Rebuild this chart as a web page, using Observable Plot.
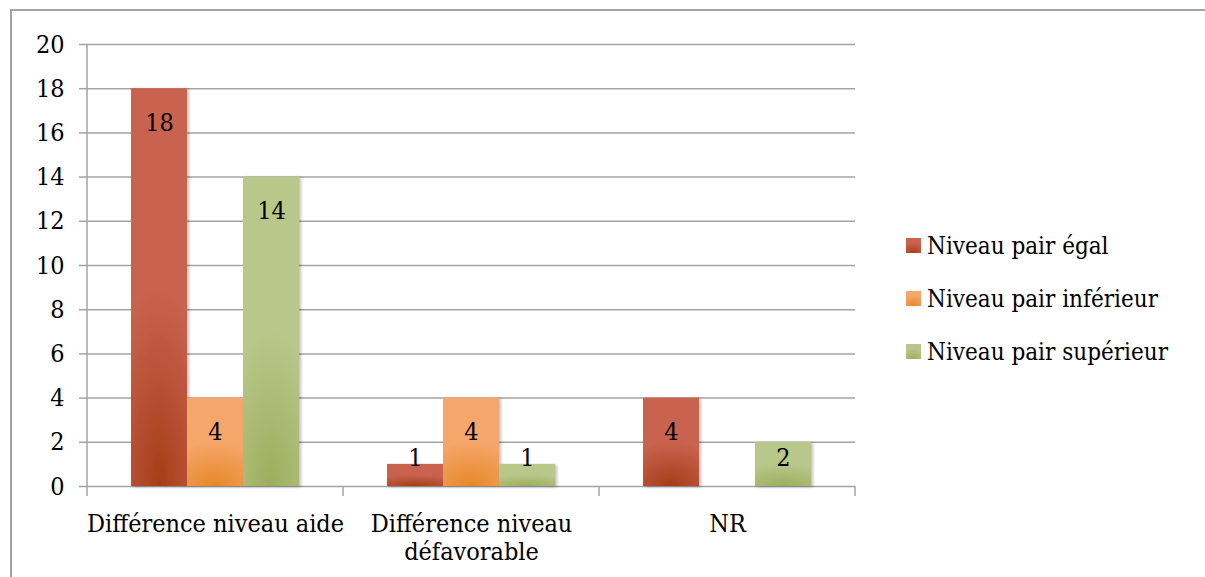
<!DOCTYPE html>
<html>
<head>
<meta charset="utf-8">
<script src="https://cdn.jsdelivr.net/npm/d3@7"></script>
<script src="https://cdn.jsdelivr.net/npm/@observablehq/plot@0.6"></script>
<style>
  html, body { margin: 0; padding: 0; background: #fff; width: 1205px; height: 577px; overflow: hidden; }
  #frame { position: absolute; left: 10px; top: 9px; width: 1400px; height: 800px; border: 2px solid #a3a3a3; box-sizing: border-box; }
  #chart { position: absolute; left: 0; top: 0; }
  #legend { position: absolute; left: 906px; top: 219px; font-family: "DejaVu Serif Condensed", "DejaVu Serif", serif; font-stretch: condensed; font-size: 24px; color: #000; }
  .row { display: flex; align-items: center; height: 53px; }
  .sw { width: 15px; height: 15px; margin-right: 6px; }
</style>
</head>
<body>
<svg width="0" height="0" style="position:absolute">
  <defs>
    <radialGradient id="g0" cx="0.5" cy="1" r="1" fx="0.5" fy="1" gradientTransform="translate(0.5,1) scale(2,1) translate(-0.5,-1)">
      <stop offset="0" stop-color="#a53d18"/>
      <stop offset="0.5" stop-color="#c9634f"/>
      <stop offset="1" stop-color="#c9634f"/>
    </radialGradient>
    <radialGradient id="g1" cx="0.5" cy="1" r="1" fx="0.5" fy="1" gradientTransform="translate(0.5,1) scale(2,1) translate(-0.5,-1)">
      <stop offset="0" stop-color="#e6872a"/>
      <stop offset="0.5" stop-color="#f5a66a"/>
      <stop offset="1" stop-color="#f5a66a"/>
    </radialGradient>
    <radialGradient id="g2" cx="0.5" cy="1" r="1" fx="0.5" fy="1" gradientTransform="translate(0.5,1) scale(2,1) translate(-0.5,-1)">
      <stop offset="0" stop-color="#9cae5d"/>
      <stop offset="0.5" stop-color="#b9c78a"/>
      <stop offset="1" stop-color="#b9c78a"/>
    </radialGradient>
    <filter id="shadow" x="-20%" y="-20%" width="140%" height="140%">
      <feDropShadow dx="2" dy="1" stdDeviation="1.5" flood-color="#000" flood-opacity="0.25"/>
    </filter>
  </defs>
</svg>
<div id="frame"></div>
<div id="chart"></div>
<div id="legend"></div>
<script>
// ---- data ----
const categories = ["Différence niveau aide", "Différence niveau défavorable", "NR"];
const categoryLabels = ["Différence niveau aide", "Différence niveau\ndéfavorable", "NR"];
const series = ["Niveau pair égal", "Niveau pair inférieur", "Niveau pair supérieur"];
const egal = [18, 1, 4];
const inferieur = [4, 4, 0];
const superieur = [14, 1, 2];
const yTicks = [0, 2, 4, 6, 8, 10, 12, 14, 16, 18, 20];
const fills = ["url(#g0)", "url(#g1)", "url(#g2)"];
const swatches = [
  "radial-gradient(ellipse 120% 100% at 50% 100%, #a53d18, #c9634f 70%)",
  "radial-gradient(ellipse 120% 100% at 50% 100%, #e6872a, #f5a66a 70%)",
  "radial-gradient(ellipse 120% 100% at 50% 100%, #9cae5d, #b9c78a 70%)"
];

const valuesBySeries = [egal, inferieur, superieur];
const table = [];
categories.forEach((c, ci) => series.forEach((s, si) => table.push({category: c, series: s, value: valuesBySeries[si][ci]})));

const FONT = '"DejaVu Serif Condensed", "DejaVu Serif", serif';
const GRID = "#a3a3a3";
const FS = 25;

const plot = Plot.plot({
  width: 870,
  height: 577,
  marginLeft: 86,
  marginRight: 14,
  marginTop: 44,
  marginBottom: 91,
  style: {fontFamily: FONT, fontStretch: "condensed", fontSize: FS + "px", color: "#000", background: "transparent", overflow: "visible"},
  fx: {domain: categories, padding: 0, label: null},
  x: {domain: series, paddingInner: 0, paddingOuter: 0.75, axis: null},
  y: {domain: [0, 20], label: null},
  color: {domain: series, range: fills},
  marks: [
    Plot.gridY(yTicks, {stroke: GRID, strokeOpacity: 1, strokeWidth: 1.5}),
    Plot.axisY(yTicks, {tickSize: 8, tickPadding: 15, stroke: GRID, strokeWidth: 1.5, fontSize: FS, label: null}),
    Plot.axisFx({anchor: "bottom", tickSize: 0, tickPadding: 26, fontSize: FS, lineHeight: 1.12, label: null,
      tickFormat: d => categoryLabels[categories.indexOf(d)]}),
    Plot.barY(table, {fx: "category", x: "series", y: "value", fill: "series"}),
    Plot.text(table.filter(d => d.value > 0), {
      fx: "category", x: "series",
      y: d => Math.max(d.value - 1.55, 1.3),
      text: d => String(d.value), fontSize: FS, fill: "#000"
    })
  ]
});

// axis line and category separators, from the plot's own scales
const fx = plot.scale("fx");
const y = plot.scale("y");
const g = d3.select(plot).append("g").attr("stroke", GRID).attr("stroke-width", 1.5);
const y0 = y.apply(0);
const x0 = fx.apply(categories[0]);
g.append("line").attr("x1", x0).attr("x2", x0).attr("y1", y.apply(20)).attr("y2", y0 + 10);
categories.forEach(c => {
  const xr = fx.apply(c) + fx.bandwidth;
  g.append("line").attr("x1", xr).attr("x2", xr).attr("y1", y0).attr("y2", y0 + 10);
});
d3.select(plot).selectAll('g[aria-label="bar"] rect').attr("filter", "url(#shadow)");

document.getElementById("chart").appendChild(plot);

// legend
const legend = d3.select("#legend");
series.forEach((s, i) => {
  const row = legend.append("div").attr("class", "row");
  row.append("div").attr("class", "sw").style("background", swatches[i]);
  row.append("span").text(s);
});
</script>
</body>
</html>
